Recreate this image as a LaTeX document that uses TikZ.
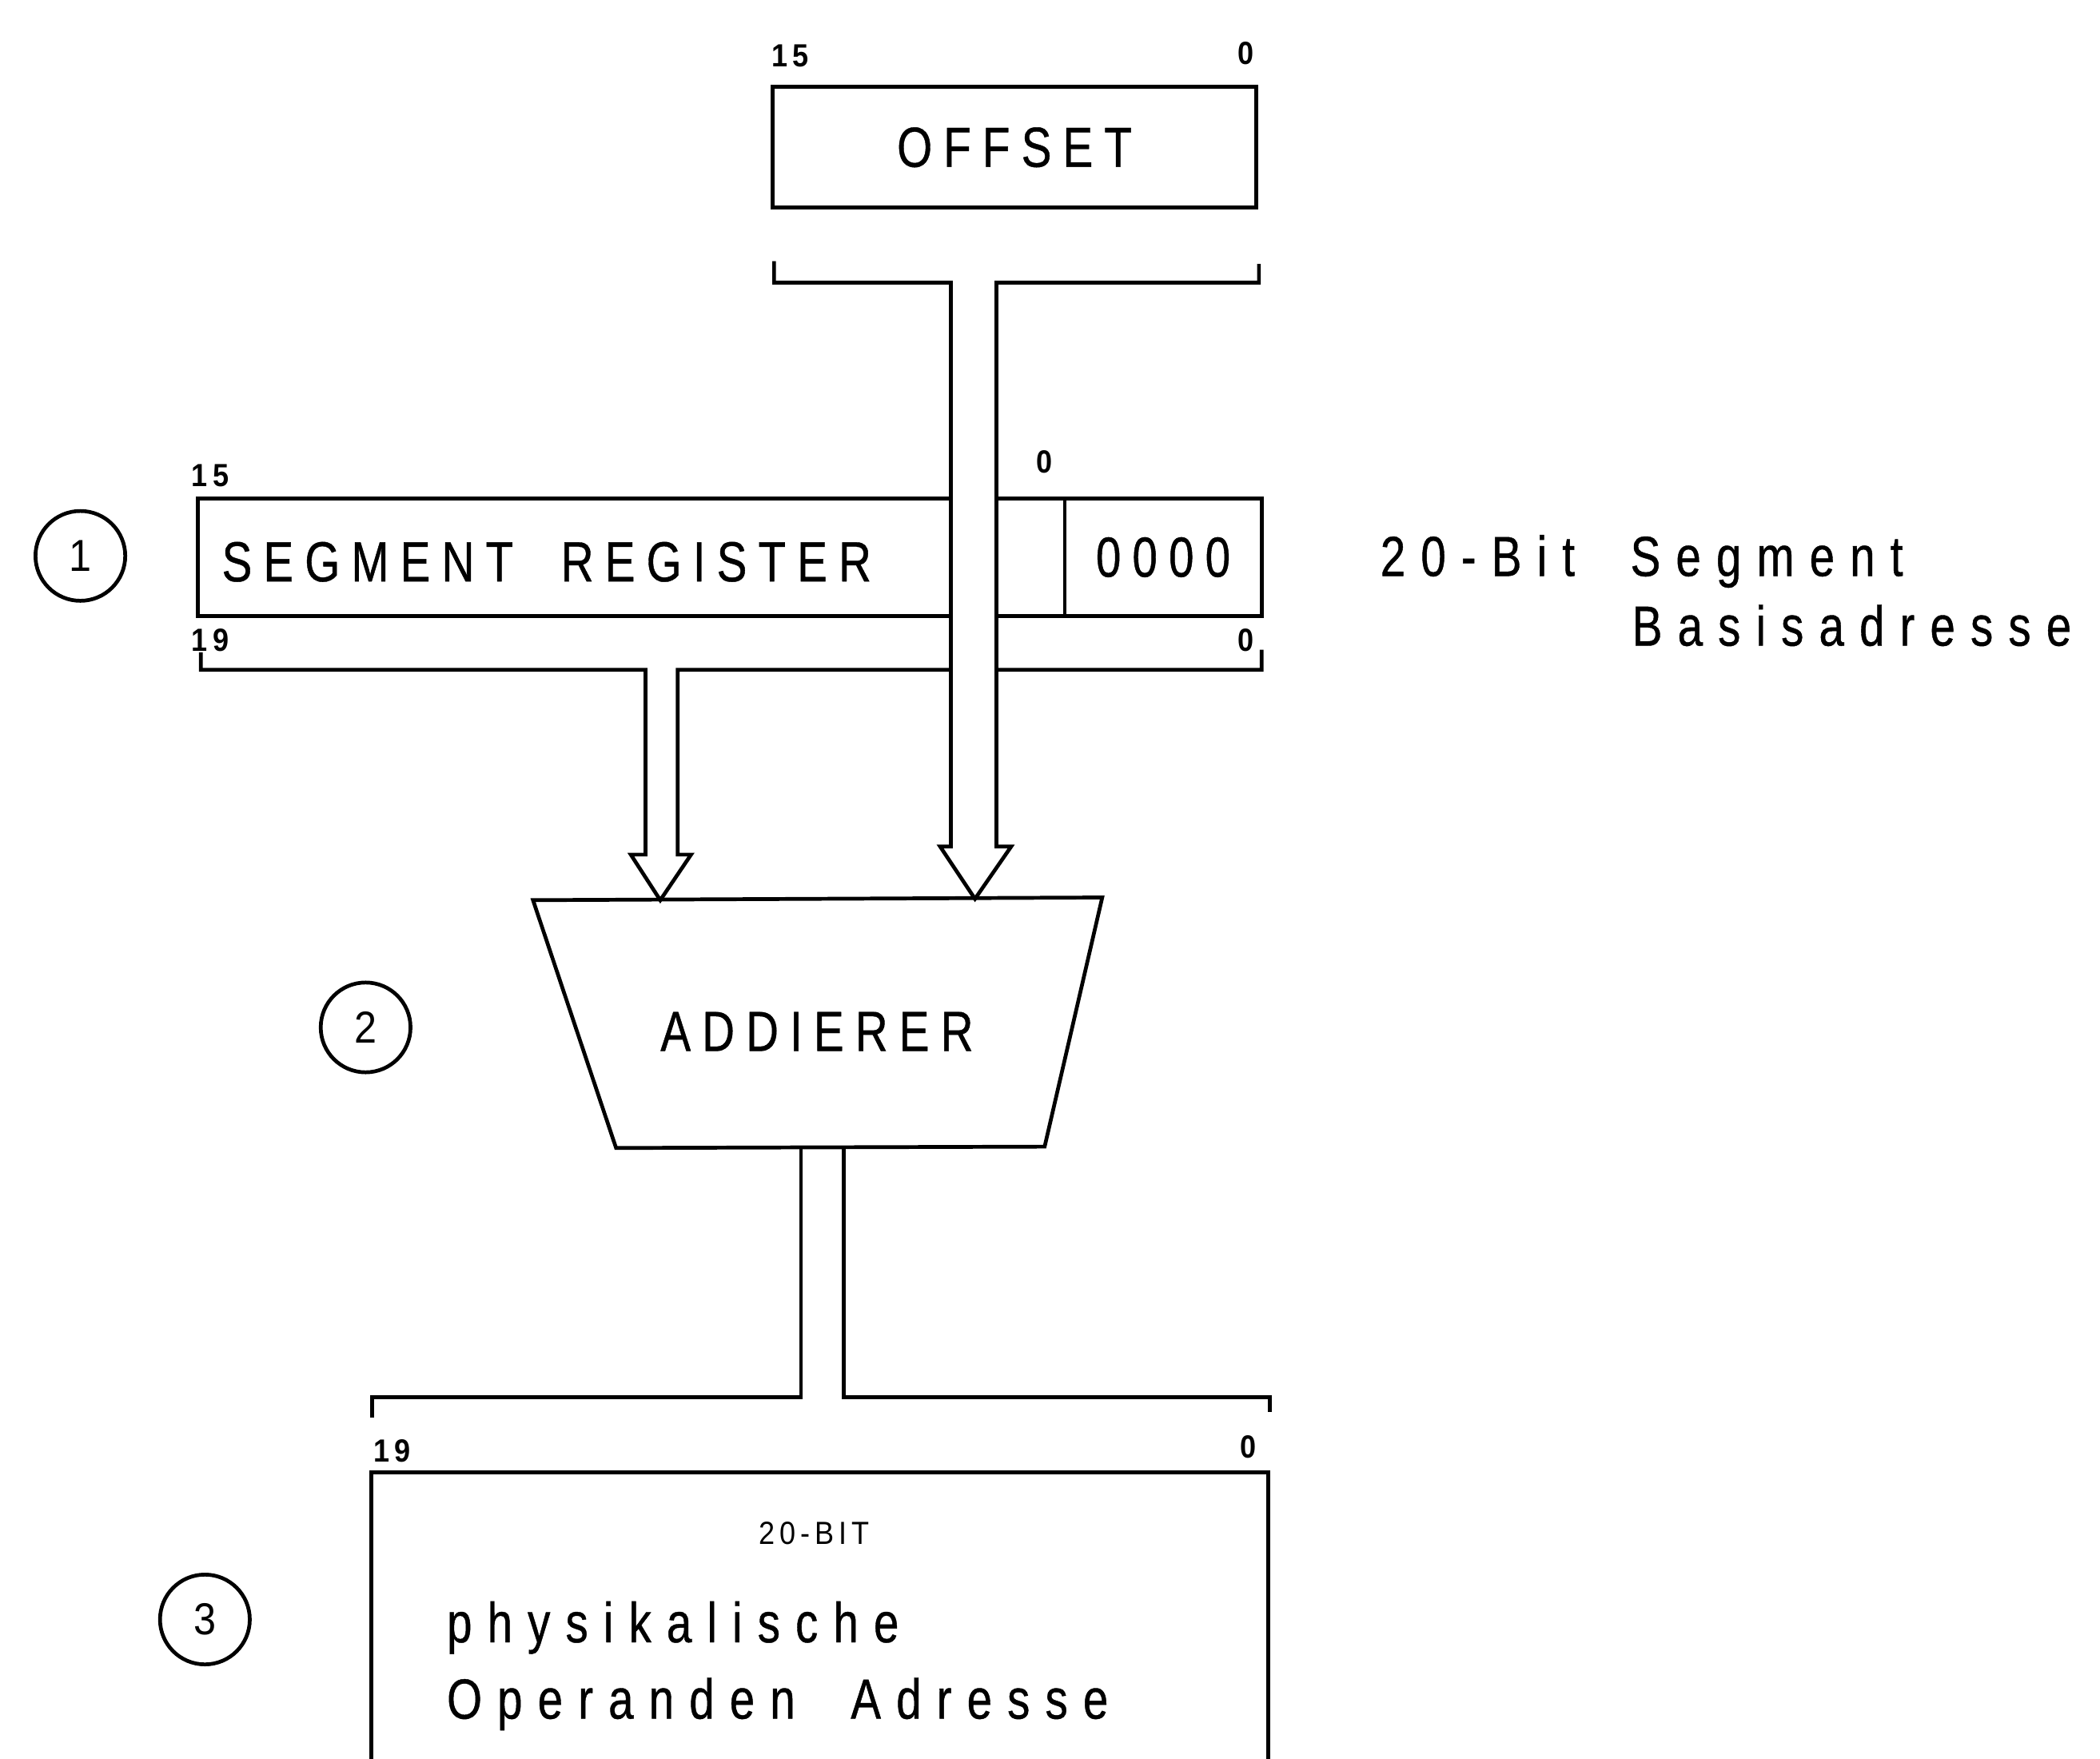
\documentclass[tikz,border=0pt]{standalone}
\usepackage{fontspec}
\newfontfamily\lettering[FakeStretch=0.8,LetterSpace=20,WordSpace=2,FakeBold=0.6]{Liberation Sans}
\newfontfamily\lowlettering[FakeStretch=0.8,LetterSpace=27,WordSpace=2,FakeBold=0.6]{Liberation Sans}
\newfontfamily\smalllettering[FakeStretch=0.9,LetterSpace=15]{Liberation Sans}
\usepackage{tikz}
\usetikzlibrary{calc, positioning}

\tikzset{
  reg/.style={draw, thick, inner sep=0pt},
  txt/.style={inner sep=0pt, font=\lettering\fontsize{12}{14}\selectfont},
  lowtxt/.style={inner sep=0pt, font=\lowlettering\fontsize{12}{14}\selectfont},
  bitnr/.style={inner sep=0pt, font=\smalllettering\fontsize{6.8}{8}\selectfont\bfseries},
  stepnr/.style={draw, circle, thick, minimum size=0.67cm, inner sep=0pt,
    font=\smalllettering\fontsize{9.5}{11}\selectfont},
}

\begin{document}
\begin{tikzpicture}[x=0.01cm, y=-0.01cm, >=stealth]
    \useasboundingbox (0,0) rectangle (1568,1313);

    % --- OFFSET (16 Bit) ---
    \node[reg, txt, minimum width=3.61cm, minimum height=0.9cm] (offset) at (757.5,110) {OFFSET};
    \node[bitnr] (o15) at (590,42) {15};
    \node[bitnr] (o0) at (930,40) {0};

    % --- SEGMENT REGISTER, um 4 Bit nach links geschoben ---
    \node[reg, minimum width=7.94cm, minimum height=0.88cm] (segreg) at (545,416) {};
    \node[reg, txt, minimum width=1.47cm, minimum height=0.88cm] (zeros) at (868.5,416) {0000};
    \node[txt, anchor=base west] (segtxt) at (165,434) {SEGMENT REGISTER};
    \node[bitnr] (s15) at (157,355) {15};
    \node[bitnr] (s0) at (780,345) {0};
    \node[bitnr] (s19) at (157,478) {19};
    \node[bitnr] (s0b) at (930,478) {0};
    \node[stepnr] (c1) at (60,415) {1};
    \node[lowtxt, anchor=base west] (segdesc) at (1030,430) {20-Bit Segment};
    \node[lowtxt, anchor=base west] (basdesc) at (1218,482) {Basisadresse};

    % --- ADDIERER ---
    \coordinate (addTL) at (398,672);
    \coordinate (addTR) at (823,670);
    \coordinate (addBR) at (780,856);
    \coordinate (addBL) at (460,857);
    \draw[thick] (addTL) -- (addTR) -- (addBR) -- (addBL) -- cycle;
    \node[txt] (adder) at (610,770) {ADDIERER};
    \node[stepnr] (c2) at (273,767) {2};

    % Bus vom Segment Register
    \draw[thick] (150,487) -- (150,500) -- (482,500) -- (482,638) -- (471,638)
        -- (493,672) -- (516,638) -- (506,638) -- (506,500) -- (942,500) -- (942,485);

    % Bus vom Offset (laeuft ueber das Segment Register)
    \fill[white] (710,211) rectangle (744,634);
    \draw[thick] (578,195) -- (578,211) -- (710,211) -- (710,632) -- (702,632)
        -- (728,671) -- (755,632) -- (744,632) -- (744,211) -- (940,211) -- (940,197);

    % Bus zur physikalischen Adresse
    \draw[thick] (598,857) -- (598,1043) -- (278,1043) -- (278,1058);
    \draw[thick] (630,857) -- (630,1043) -- (948,1043) -- (948,1054);

    % --- 20-BIT physikalische Adresse ---
    \node[minimum width=6.68cm, minimum height=2.13cm, inner sep=0pt] (result) at (612,1206.5) {};
    \draw[thick] (result.south west) |- (result.north east) -- (result.south east);
    \node[bitnr] (r19) at (293,1083) {19};
    \node[bitnr] (r0) at (932,1080) {0};
    \node[bitnr, font=\smalllettering\fontsize{6.8}{8}\selectfont, anchor=base] (r20) at (608,1153) {20-BIT};
    \node[lowtxt, anchor=base west] (phys) at (333,1226) {physikalische};
    \node[lowtxt, anchor=base west] (oper) at (333,1283) {Operanden Adresse};
    \node[stepnr] (c3) at (153,1209) {3};
\end{tikzpicture}
\end{document}
